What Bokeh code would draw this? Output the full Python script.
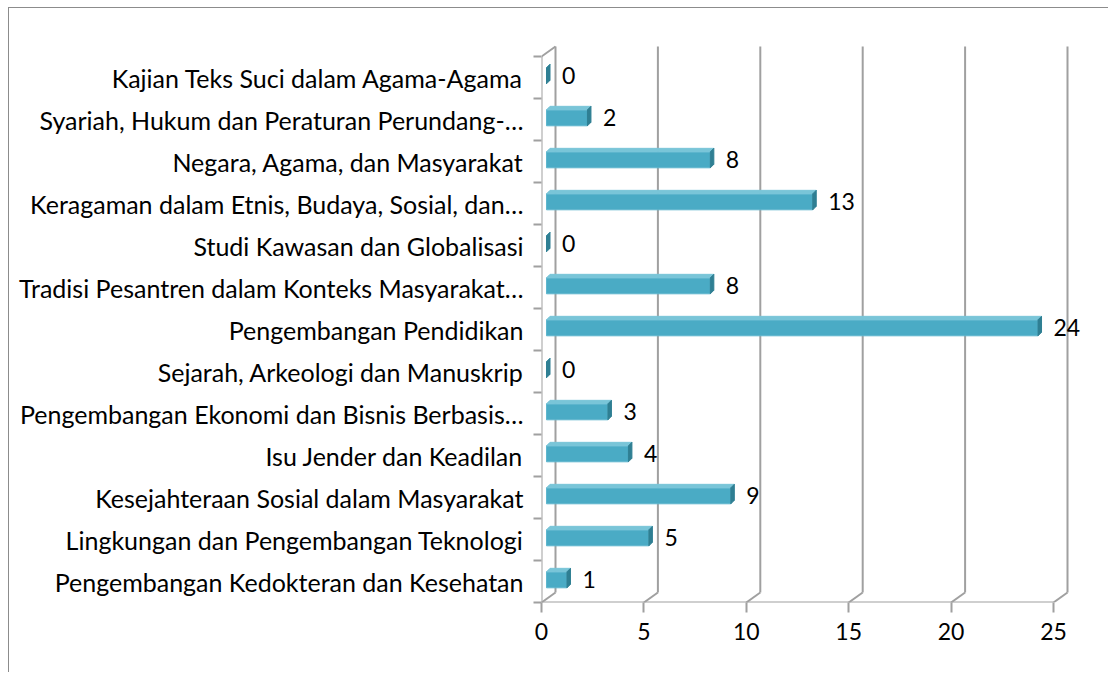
from bokeh.plotting import figure
from bokeh.models import FixedTicker, Range1d, ColumnDataSource
from bokeh.core.properties import value
from bokeh.embed import file_html
from bokeh.resources import INLINE

# ---- data (bottom to top) ----
categories = [
    "Pengembangan Kedokteran dan Kesehatan",
    "Lingkungan dan Pengembangan Teknologi",
    "Kesejahteraan Sosial dalam Masyarakat",
    "Isu Jender dan Keadilan",
    "Pengembangan Ekonomi dan Bisnis Berbasis…",
    "Sejarah, Arkeologi dan Manuskrip",
    "Pengembangan Pendidikan",
    "Tradisi Pesantren dalam Konteks Masyarakat…",
    "Studi Kawasan dan Globalisasi",
    "Keragaman dalam Etnis, Budaya, Sosial, dan…",
    "Negara, Agama, dan Masyarakat",
    "Syariah, Hukum dan Peraturan Perundang-…",
    "Kajian Teks Suci dalam Agama-Agama",
]
counts = [1, 5, 9, 4, 3, 0, 24, 8, 0, 13, 8, 2, 0]
x_ticks = [0, 5, 10, 15, 20, 25]

# ---- styling / geometry ----
FONT = "Lato"
FS_CAT = "25px"
FS_NUM = "23px"
PX_X = 20.48   # pixels per unit
PX_Y = 42.0    # pixels per category
FRAME_W = 549
FRAME_H = 572
GRID = "#a0a0a0"
DX = 14 / PX_X       # depth offset of back wall
DY = 10 / PX_Y
n = len(categories)
xmax = x_ticks[-1]

p = figure(width=1100, height=665, output_backend="svg", toolbar_location=None,
           x_range=Range1d(0, FRAME_W / PX_X),
           y_range=Range1d(-0.5, -0.5 + FRAME_H / PX_Y),
           min_border_left=532, min_border_right=19,
           min_border_top=22, min_border_bottom=71)
p.margin = (7, 0, 0, 8)
p.styles = {"border-left": "1px solid #8c8c8c", "border-top": "1px solid #8c8c8c"}
p.outline_line_color = None
p.grid.visible = False
p.background_fill_color = "white"
p.border_fill_color = "white"

# x axis
xa = p.xaxis[0]
xa.ticker = FixedTicker(ticks=x_ticks)
xa.axis_line_color = None
xa.major_tick_out = 10
xa.major_tick_in = 0
xa.major_tick_line_color = GRID
xa.major_tick_line_width = 2
xa.minor_tick_out = 0
xa.minor_tick_in = 0
xa.major_label_standoff = 10
xa.major_label_text_font = FONT
xa.major_label_text_font_size = FS_NUM
xa.major_label_text_color = "black"

# y axis (categories)
ya = p.yaxis[0]
ya.ticker = FixedTicker(ticks=list(range(n)), minor_ticks=[k - 0.5 for k in range(n + 1)])
ya.major_label_overrides = {i: c for i, c in enumerate(categories)}
ya.axis_line_color = None
ya.major_tick_out = 0
ya.major_tick_in = 0
ya.minor_tick_out = 8
ya.minor_tick_in = 0
ya.minor_tick_line_color = GRID
ya.minor_tick_line_width = 2
ya.major_label_standoff = 10
ya.major_label_text_font = FONT
ya.major_label_text_font_size = FS_CAT
ya.major_label_text_color = "black"

# ---- 3D walls ----
y0 = -0.5
y1 = n - 0.5
x0s, y0s, x1s, y1s = [], [], [], []
x0s.append(0); y0s.append(y0); x1s.append(xmax); y1s.append(y0)          # front floor
x0s.append(0); y0s.append(y0); x1s.append(0); y1s.append(y1)             # front left
x0s.append(0); y0s.append(y1); x1s.append(DX); y1s.append(y1 + DY)       # top-left diagonal
for t in x_ticks:
    x0s.append(t); y0s.append(y0); x1s.append(t + DX); y1s.append(y0 + DY)
    x0s.append(t + DX); y0s.append(y0 + DY); x1s.append(t + DX); y1s.append(y1 + DY)
p.segment(x0=x0s, y0=y0s, x1=x1s, y1=y1s, line_color=GRID, line_width=2)

# ---- 3D bars ----
BX0 = 5 / PX_X
FB = 0.15
FT = 0.23
SDX = 3.5 / PX_X
SDY = 3.5 / PX_Y
front_xs, front_ys, top_xs, top_ys, side_xs, side_ys = [], [], [], [], [], []
for k, v in enumerate(counts):
    xa0 = BX0
    xa1 = BX0 + v
    yb = k - FB
    yt = k + FT
    front_xs.append([xa0, xa1, xa1, xa0]); front_ys.append([yb, yb, yt, yt])
    top_xs.append([xa0, xa1, xa1 + SDX, xa0 + SDX]); top_ys.append([yt, yt, yt + SDY, yt + SDY])
    side_xs.append([xa1, xa1 + SDX, xa1 + SDX, xa1]); side_ys.append([yb, yb + SDY, yt + SDY, yt])

p.patches(front_xs, front_ys, fill_color="#4aabc5", line_color="#5fb6cd", line_width=1)
p.patches(top_xs, top_ys, fill_color="#79c5d8", line_color="#79c5d8", line_width=1)
p.patches(side_xs, side_ys, fill_color="#2f7f93", line_color="#2f7f93", line_width=1)

# ---- value labels ----
lab_src = ColumnDataSource(dict(
    x=[v + BX0 + SDX + 12 / PX_X for v in counts],
    y=[k + (FT - FB) / 2 for k in range(n)],
    t=[str(v) for v in counts],
))
p.text(x="x", y="y", text="t", source=lab_src, text_font=value(FONT),
       text_font_size=FS_NUM, text_baseline="middle", text_align="left",
       text_color="black")

open("out.html", "w").write(file_html(p, INLINE))
